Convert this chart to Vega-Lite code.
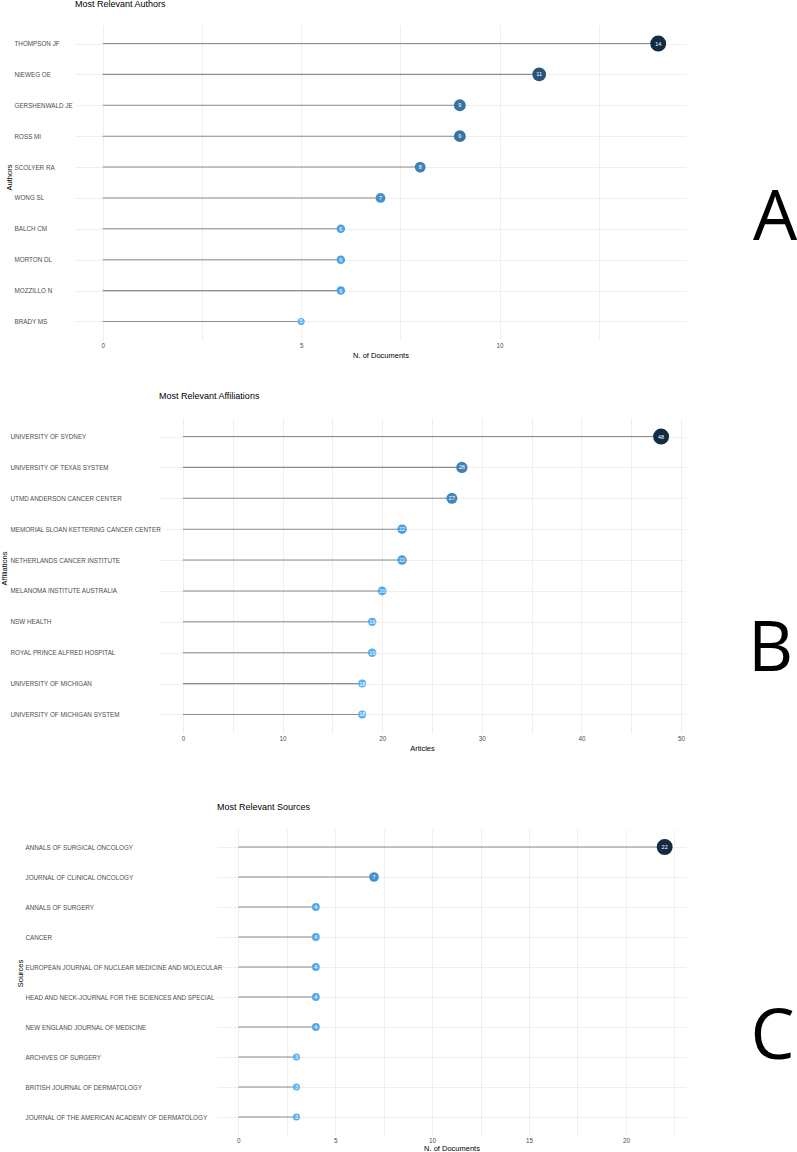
{
  "$schema": "https://vega.github.io/schema/vega-lite/v6.json",
  "padding": 0,
  "background": "white",
  "config": {
    "view": {"stroke": null},
    "font": "Liberation Sans",
    "axis": {
      "domain": false, "ticks": false, "tickSize": 0,
      "gridColor": "#EBEBEB", "gridWidth": 0.8,
      "labelColor": "#4D4D4D", "labelFontSize": 6.3, "labelFont": "Liberation Sans", "labelLimit": 400,
      "titleFont": "Liberation Sans", "titleFontWeight": "normal", "titleFontSize": 7.5, "titleColor": "#000000",
      "labelPadding": 2, "titlePadding": 3
    },
    "title": {"fontSize": 9, "fontWeight": "normal", "anchor": "start", "frame": "group", "color": "#000000", "font": "Liberation Sans", "baseline": "bottom"}
  },
  "datasets": {
    "authors": [
      {"name": "THOMPSON JF", "value": 14},
      {"name": "NIEWEG OE", "value": 11},
      {"name": "GERSHENWALD JE", "value": 9},
      {"name": "ROSS MI", "value": 9},
      {"name": "SCOLYER RA", "value": 8},
      {"name": "WONG SL", "value": 7},
      {"name": "BALCH CM", "value": 6},
      {"name": "MORTON DL", "value": 6},
      {"name": "MOZZILLO N", "value": 6},
      {"name": "BRADY MS", "value": 5}
    ],
    "affiliations": [
      {"name": "UNIVERSITY OF SYDNEY", "value": 48},
      {"name": "UNIVERSITY OF TEXAS SYSTEM", "value": 28},
      {"name": "UTMD ANDERSON CANCER CENTER", "value": 27},
      {"name": "MEMORIAL SLOAN KETTERING CANCER CENTER", "value": 22},
      {"name": "NETHERLANDS CANCER INSTITUTE", "value": 22},
      {"name": "MELANOMA INSTITUTE AUSTRALIA", "value": 20},
      {"name": "NSW HEALTH", "value": 19},
      {"name": "ROYAL PRINCE ALFRED HOSPITAL", "value": 19},
      {"name": "UNIVERSITY OF MICHIGAN", "value": 18},
      {"name": "UNIVERSITY OF MICHIGAN SYSTEM", "value": 18}
    ],
    "sources": [
      {"name": "ANNALS OF SURGICAL ONCOLOGY", "value": 22},
      {"name": "JOURNAL OF CLINICAL ONCOLOGY", "value": 7},
      {"name": "ANNALS OF SURGERY", "value": 4},
      {"name": "CANCER", "value": 4},
      {"name": "EUROPEAN JOURNAL OF NUCLEAR MEDICINE AND MOLECULAR", "value": 4},
      {"name": "HEAD AND NECK-JOURNAL FOR THE SCIENCES AND SPECIAL", "value": 4},
      {"name": "NEW ENGLAND JOURNAL OF MEDICINE", "value": 4},
      {"name": "ARCHIVES OF SURGERY", "value": 3},
      {"name": "BRITISH JOURNAL OF DERMATOLOGY", "value": 3},
      {"name": "JOURNAL OF THE AMERICAN ACADEMY OF DERMATOLOGY", "value": 3}
    ]
  },
  "spacing": 33,
  "bounds": "full",
  "resolve": {"scale": {"color": "independent", "size": "independent", "x": "independent", "y": "independent"}},
  "vconcat": [
    {
      "spacing": 0,
      "bounds": "flush",
      "resolve": {"scale": {"color": "independent", "size": "independent", "x": "independent", "y": "independent"}},
      "hconcat": [
        {"width": 75, "height": 10, "data": {"values": [{"s": ""}]}, "mark": {"type": "text"}, "encoding": {"text": {"field": "s"}}},
        {
          "data": {"name": "authors"},
          "width": 611, "height": 315,
          "title": {"text": "Most Relevant Authors", "offset": 16},
          "encoding": {
            "y": {"field": "name", "type": "nominal", "sort": null,
              "scale": {"type": "point", "padding": 0.6},
              "axis": {"title": "Authors", "grid": true, "labelAlign": "left", "labelPadding": 61, "titleX": -66, "titleY": 152, "titleAngle": -90, "titleBaseline": "middle", "titleAlign": "center"}},
            "x": {"field": "value", "type": "quantitative",
              "scale": {"domain": [-0.7, 14.7], "nice": false, "zero": false},
              "axis": {"title": "N. of Documents", "grid": true, "values": [0, 2.5, 5, 7.5, 10, 12.5], "labelExpr": "datum.value % 5 == 0 ? datum.label : ''"}}
          },
          "layer": [
            {"mark": {"type": "rule", "color": "#8C8C8C", "strokeWidth": 1.1}, "encoding": {"x": {"datum": 0, "type": "quantitative"}, "x2": {"field": "value"}}},
            {"mark": {"type": "circle", "opacity": 1}, "encoding": {
              "size": {"field": "value", "type": "quantitative", "scale": {"range": [50, 254], "zero": false}, "legend": null},
              "color": {"field": "value", "type": "quantitative", "scale": {"range": ["#56B1F7", "#132B43"], "interpolate": "lab", "zero": false}, "legend": null}}},
            {"mark": {"type": "text", "color": "white", "fontSize": 5.5}, "encoding": {"text": {"field": "value", "type": "quantitative"}}}
          ]
        },
        {"width": 111, "height": 315, "data": {"values": [{"letter": "A"}]}, "mark": {"type": "text", "font": "Open Sans", "fontSize": 70, "dx": 33.5, "dy": 36, "color": "black"}, "encoding": {"text": {"field": "letter"}}}
      ]
    },
    {
      "spacing": 0,
      "bounds": "flush",
      "resolve": {"scale": {"color": "independent", "size": "independent", "x": "independent", "y": "independent"}},
      "hconcat": [
        {"width": 159, "height": 351.5, "data": {"values": [{"s": ""}]}, "mark": {"type": "text"}, "encoding": {"text": {"field": "s"}}},
        {
          "data": {"name": "affiliations"},
          "width": 526, "height": 315,
          "title": {"text": "Most Relevant Affiliations", "offset": 17},
          "encoding": {
            "y": {"field": "name", "type": "nominal", "sort": null,
              "scale": {"type": "point", "padding": 0.6},
              "axis": {"title": "Affiliations", "grid": true, "labelAlign": "left", "labelPadding": 149, "titleX": -154.5, "titleY": 150, "titleAngle": -90, "titleBaseline": "middle", "titleAlign": "center"}},
            "x": {"field": "value", "type": "quantitative",
              "scale": {"domain": [-2.4, 50.4], "nice": false, "zero": false},
              "axis": {"title": "Articles", "grid": true, "values": [0, 5, 10, 15, 20, 25, 30, 35, 40, 45, 50], "labelExpr": "datum.value % 10 == 0 ? datum.label : ''"}}
          },
          "layer": [
            {"mark": {"type": "rule", "color": "#8C8C8C", "strokeWidth": 1.1}, "encoding": {"x": {"datum": 0, "type": "quantitative"}, "x2": {"field": "value"}}},
            {"mark": {"type": "circle", "opacity": 1}, "encoding": {
              "size": {"field": "value", "type": "quantitative", "scale": {"range": [64, 254], "zero": false}, "legend": null},
              "color": {"field": "value", "type": "quantitative", "scale": {"range": ["#56B1F7", "#132B43"], "interpolate": "lab", "zero": false}, "legend": null}}},
            {"mark": {"type": "text", "color": "white", "fontSize": 5.5}, "encoding": {"text": {"field": "value", "type": "quantitative"}}}
          ]
        },
        {"width": 112, "height": 315, "data": {"values": [{"letter": "B"}]}, "mark": {"type": "text", "font": "Open Sans", "fontSize": 70, "dx": 29.5, "dy": 74, "color": "black"}, "encoding": {"text": {"field": "letter"}}}
      ]
    },
    {
      "spacing": 0,
      "bounds": "flush",
      "resolve": {"scale": {"color": "independent", "size": "independent", "x": "independent", "y": "independent"}},
      "hconcat": [
        {"width": 217, "height": 10, "data": {"values": [{"s": ""}]}, "mark": {"type": "text"}, "encoding": {"text": {"field": "s"}}},
        {
          "data": {"name": "sources"},
          "width": 469, "height": 306,
          "title": {"text": "Most Relevant Sources", "offset": 17},
          "encoding": {
            "y": {"field": "name", "type": "nominal", "sort": null,
              "scale": {"type": "point", "padding": 0.6},
              "axis": {"title": "Sources", "grid": true, "labelAlign": "left", "labelPadding": 192, "titleX": -197, "titleY": 144, "titleAngle": -90, "titleBaseline": "middle", "titleAlign": "center"}},
            "x": {"field": "value", "type": "quantitative",
              "scale": {"domain": [-1.1, 23.1], "nice": false, "zero": false},
              "axis": {"title": "N. of Documents", "grid": true, "titlePadding": 1, "values": [0, 2.5, 5, 7.5, 10, 12.5, 15, 17.5, 20, 22.5], "labelExpr": "datum.value % 5 == 0 ? datum.label : ''"}}
          },
          "layer": [
            {"mark": {"type": "rule", "color": "#8C8C8C", "strokeWidth": 1.1}, "encoding": {"x": {"datum": 0, "type": "quantitative"}, "x2": {"field": "value"}}},
            {"mark": {"type": "circle", "opacity": 1}, "encoding": {
              "size": {"field": "value", "type": "quantitative", "scale": {"range": [50, 254], "zero": false}, "legend": null},
              "color": {"field": "value", "type": "quantitative", "scale": {"range": ["#56B1F7", "#132B43"], "interpolate": "lab", "zero": false}, "legend": null}}},
            {"mark": {"type": "text", "color": "white", "fontSize": 5.5}, "encoding": {"text": {"field": "value", "type": "quantitative"}}}
          ]
        },
        {"width": 111, "height": 306, "data": {"values": [{"letter": "C"}]}, "mark": {"type": "text", "font": "Open Sans", "fontSize": 70, "dx": 31, "dy": 56, "color": "black"}, "encoding": {"text": {"field": "letter"}}}
      ]
    }
  ]
}
